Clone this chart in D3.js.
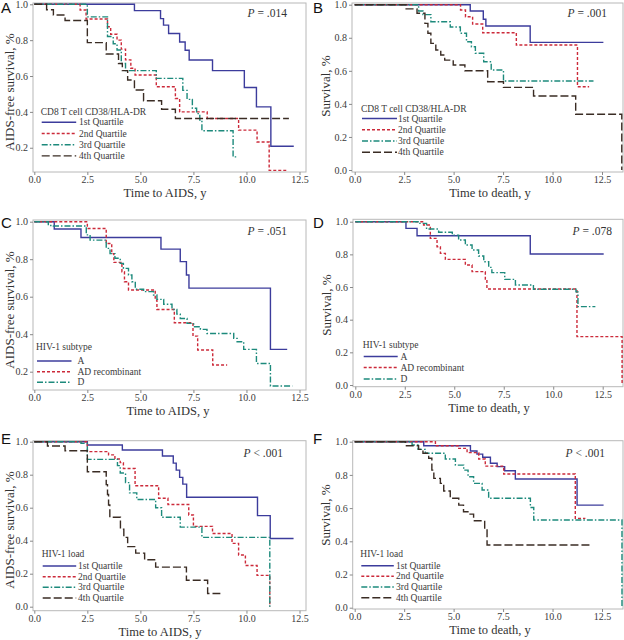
<!DOCTYPE html>
<html><head><meta charset="utf-8">
<script src="https://cdn.jsdelivr.net/npm/d3@7/dist/d3.min.js"></script>
<style>
body{margin:0;background:#fff}
svg{display:block}
text{font-family:"Liberation Serif","Times New Roman",serif}
</style>
</head><body>
<svg id="chart" width="624" height="640"></svg>
<script>
// ---------- data ----------
const xTicks = [0, 2.5, 5, 7.5, 10, 12.5];
const yTicksShort = [0.2, 0.4, 0.6, 0.8, 1.0];
const yTicksFull = [0.0, 0.2, 0.4, 0.6, 0.8, 1.0];
const quartileNames = ["1st Quartile", "2nd Quartile", "3rd Quartile", "4th Quartile"];
const subtypeNames = ["A", "AD recombinant", "D"];

// Panel A: AIDS-free survival by CD8 CD38/HLA-DR quartile  [time, survival]
const A_q1 = [[0,1],[4.72,0.965],[5.95,0.92],[6.09,0.884],[6.33,0.837],[6.85,0.79],[7.11,0.744],[7.3,0.689],[8.4,0.63],[9.9,0.536],[10.47,0.428],[11.15,0.208],[12.23,0.208]];
const A_q2 = [[0,1],[2.16,0.968],[2.44,0.918],[3.45,0.875],[3.6,0.833],[3.9,0.80],[4.1,0.75],[4.3,0.69],[4.55,0.643],[4.75,0.606],[5.75,0.54],[6.65,0.475],[6.85,0.40],[8.15,0.363],[9.63,0.298],[10.5,0.232],[11.07,0.074],[11.92,0.074]];
const A_q3 = [[0,1],[2.5,0.93],[3.45,0.82],[3.72,0.78],[3.9,0.745],[4.1,0.67],[4.3,0.63],[5.75,0.587],[7.0,0.52],[7.2,0.47],[7.45,0.42],[7.65,0.39],[7.8,0.355],[7.9,0.295],[9.37,0.149],[9.58,0.149]];
const A_q4 = [[0,1],[0.58,0.97],[0.9,0.94],[1.45,0.91],[2.5,0.786],[3.39,0.723],[3.97,0.67],[4.15,0.63],[4.4,0.578],[4.72,0.522],[5.15,0.462],[6.0,0.415],[6.65,0.363],[12.0,0.363]];

// Panel B: survival by CD8 CD38/HLA-DR quartile
const B_q1 = [[0,1],[5.84,0.962],[6.5,0.912],[6.63,0.871],[8.87,0.772],[12.57,0.772]];
const B_q2 = [[0,1],[5.35,0.968],[5.6,0.927],[5.96,0.883],[6.47,0.83],[8.17,0.756],[11.26,0.504],[11.85,0.504]];
const B_q3 = [[0,1],[3.23,0.962],[3.45,0.94],[3.85,0.897],[4.83,0.865],[5.34,0.827],[5.65,0.776],[5.9,0.746],[6.1,0.706],[6.52,0.655],[6.9,0.605],[7.52,0.538],[12.07,0.538]];
const B_q4 = [[0,1],[2.6,0.975],[3.15,0.948],[3.55,0.887],[3.7,0.827],[3.85,0.766],[4.1,0.726],[4.35,0.696],[4.55,0.665],[4.98,0.635],[5.57,0.60],[6.72,0.534],[7.52,0.50],[9.04,0.448],[11.17,0.337],[13.5,0.0]];

// Panel C: AIDS-free survival by HIV-1 subtype
const C_A = [[0,1],[0.94,0.961],[2.2,0.916],[5.97,0.854],[6.88,0.787],[7.17,0.716],[7.29,0.646],[11.13,0.319],[11.92,0.319]];
const C_AD = [[0,1],[2.5,0.964],[3.39,0.884],[3.65,0.83],[3.75,0.783],[4.13,0.733],[4.25,0.68],[4.44,0.636],[5.7,0.582],[5.78,0.532],[6.6,0.461],[7.48,0.39],[7.7,0.316],[8.41,0.236],[9.09,0.236]];
const C_D = [[0,1],[0.66,0.98],[0.9,0.977],[2.45,0.93],[2.63,0.902],[3.39,0.858],[3.57,0.83],[3.8,0.805],[4.05,0.778],[4.2,0.751],[4.44,0.716],[4.6,0.68],[4.76,0.64],[5.15,0.627],[5.62,0.609],[5.78,0.586],[6.1,0.56],[6.49,0.532],[6.72,0.507],[6.88,0.484],[7.2,0.458],[7.51,0.44],[7.83,0.426],[8.14,0.404],[9.4,0.378],[9.56,0.36],[9.87,0.319],[10.47,0.244],[11.13,0.124],[12.16,0.124]];

// Panel D: survival by HIV-1 subtype
const D_A = [[0,1],[2.56,0.959],[3.12,0.914],[8.84,0.802],[12.55,0.802]];
const D_AD = [[0,1],[3.45,0.98],[3.79,0.898],[4.13,0.847],[4.3,0.806],[4.55,0.769],[5.56,0.735],[5.9,0.694],[6.57,0.643],[6.65,0.588],[11.2,0.296],[13.48,0.0]];
const D_D = [[0,1],[3.17,0.99],[3.6,0.955],[4.21,0.935],[4.9,0.918],[5.22,0.888],[5.56,0.857],[5.9,0.827],[6.23,0.79],[6.49,0.755],[6.74,0.72],[6.9,0.688],[7.55,0.647],[8.09,0.612],[9.0,0.586],[11.15,0.57],[11.25,0.48],[12.13,0.48]];

// Panel E: AIDS-free survival by HIV-1 load quartile
const E_q1 = [[0,1],[2.5,0.98],[4.15,0.95],[6.04,0.913],[6.55,0.87],[6.69,0.828],[6.85,0.784],[7.0,0.743],[7.18,0.663],[10.52,0.552],[11.12,0.413],[12.22,0.413]];
const E_q2 = [[0,1],[2.5,0.94],[3.5,0.92],[3.8,0.895],[4.05,0.873],[4.2,0.838],[4.75,0.733],[5.86,0.657],[6.3,0.619],[7.28,0.556],[7.5,0.487],[8.4,0.444],[9.32,0.384],[9.63,0.313],[9.95,0.25],[10.5,0.19],[11.1,0.0]];
const E_q3 = [[0,1],[2.2,0.99],[2.5,0.893],[3.92,0.855],[4.05,0.81],[4.3,0.752],[4.49,0.69],[4.83,0.65],[5.72,0.6],[6.0,0.542],[6.88,0.482],[7.9,0.42],[11.1,0.0]];
const E_q4 = [[0,1],[0.62,0.974],[1.45,0.945],[2.5,0.818],[3.39,0.74],[3.45,0.68],[3.5,0.616],[3.56,0.542],[4.06,0.47],[4.22,0.42],[4.4,0.364],[4.78,0.325],[5.2,0.285],[5.72,0.24],[7.17,0.16],[8.17,0.08],[8.77,0.08]];

// Panel F: survival by HIV-1 load quartile
const F_q1 = [[0,1],[3.49,0.976],[5.85,0.944],[6.18,0.925],[6.47,0.906],[6.86,0.87],[7.2,0.85],[7.58,0.825],[8.12,0.775],[11.24,0.618],[12.58,0.618]];
const F_q2 = [[0,1],[4.08,0.976],[5.26,0.96],[5.68,0.934],[6.27,0.896],[6.6,0.853],[7.53,0.805],[11.15,0.538],[11.66,0.538]];
const F_q3 = [[0,1],[2.9,0.98],[3.2,0.954],[3.57,0.93],[4.58,0.896],[5.09,0.859],[5.51,0.829],[5.73,0.789],[6.01,0.749],[6.44,0.709],[6.77,0.659],[8.88,0.604],[9.05,0.528],[13.51,0.0]];
const F_q4 = [[0,1],[2.56,0.976],[3.23,0.954],[3.45,0.93],[3.74,0.9],[3.9,0.829],[4.0,0.779],[4.33,0.749],[4.5,0.703],[4.83,0.659],[5.26,0.618],[5.5,0.578],[5.76,0.564],[6.01,0.524],[6.57,0.48],[6.69,0.378],[11.91,0.378]];

const pValues = ["= .014", "= .001", "= .051", "= .078", "< .001", "< .001"];

// ---------- styles ----------
const seriesStyle = [
  {color:"#3c3c9c", dash:null},
  {color:"#cc2a3a", dash:"3,2"},
  {color:"#1d8a7c", dash:"6,2,1.5,2"},
  {color:"#3a2c24", dash:"8,3"}
];

// ---------- layout ----------
const panels = [
  {letter:"A", series:[A_q1,A_q2,A_q3,A_q4], names:quartileNames, legendTitle:"CD8 T cell CD38/HLA-DR",
   p:pValues[0], yTitle:"AIDS-free survival, %", xTitle:"Time to AIDS, y", yTicks:yTicksShort,
   box:[33,3,306,172], xr:[34.3,299.5], yr:[183.6,4.3],
   letterPos:[1,13], pPos:[287,17], yTitlePos:[14,92], xTitlePos:[165,197],
   leg:{x:41.7, ty:115, rows:[122.3,133.5,144.7,155.9], len:34.5, lx:79}},
  {letter:"B", series:[B_q1,B_q2,B_q3,B_q4], names:quartileNames, legendTitle:"CD8 T cell CD38/HLA-DR",
   p:pValues[1], yTitle:"Survival, %", xTitle:"Time to death, y", yTicks:yTicksFull,
   box:[352,3,623,172], xr:[354.7,602], yr:[170,4.7],
   letterPos:[313,13], pPos:[607,17], yTitlePos:[330,86], xTitlePos:[490,197],
   leg:{x:362, ty:111.5, rows:[118.5,129.8,141,152.3], len:35, lx:398}},
  {letter:"C", series:[C_A,C_AD,C_D], names:subtypeNames, legendTitle:"HIV-1 subtype",
   p:pValues[2], yTitle:"AIDS-free survival, %", xTitle:"Time to AIDS, y", yTicks:yTicksShort,
   box:[33,220,306,390], xr:[34.3,299.5], yr:[409.2,221.7],
   letterPos:[1,228], pPos:[287,235], yTitlePos:[14,310], xTitlePos:[168,415],
   leg:{x:37, ty:350, rows:[361,371.7,382.3], len:34.5, lx:77.5}},
  {letter:"D", series:[D_A,D_AD,D_D], names:subtypeNames, legendTitle:"HIV-1 subtype",
   p:pValues[3], yTitle:"Survival, %", xTitle:"Time to death, y", yTicks:yTicksFull,
   box:[353,219.3,623,386.7], xr:[355.3,602.7], yr:[385,221.7],
   letterPos:[313,228], pPos:[612,235], yTitlePos:[331,305], xTitlePos:[489,412],
   leg:{x:363.7, ty:348, rows:[356.5,367.5,379], len:34, lx:400.5}},
  {letter:"E", series:[E_q1,E_q2,E_q3,E_q4], names:quartileNames, legendTitle:"HIV-1 load",
   p:pValues[4], yTitle:"AIDS-free survival, %", xTitle:"Time to AIDS, y", yTicks:yTicksFull,
   box:[33,440.7,306,610.7], xr:[34.3,299.5], yr:[606.7,441.7],
   letterPos:[1,444], pPos:[283,457], yTitlePos:[14,530], xTitlePos:[160,636],
   leg:{x:42.7, ty:556.5, rows:[566,576.7,587.3,598], len:33.5, lx:78}},
  {letter:"F", series:[F_q1,F_q2,F_q3,F_q4], names:quartileNames, legendTitle:"HIV-1 load",
   p:pValues[5], yTitle:"Survival, %", xTitle:"Time to death, y", yTicks:yTicksFull,
   box:[352.7,440.7,623,609], xr:[354.7,602], yr:[607.7,441.7],
   letterPos:[313,444], pPos:[605,457], yTitlePos:[330,515], xTitlePos:[490,634],
   leg:{x:361.3, ty:556.5, rows:[565.7,576.3,587,597.7], len:32.5, lx:396}}
];

const svg = d3.select("#chart");
const fmt = d3.format(".1f");

panels.forEach(pn => {
  const g = svg.append("g");
  const x = d3.scaleLinear().domain([0, 12.5]).range(pn.xr);
  const y = d3.scaleLinear().domain([0, 1]).range(pn.yr);
  const [bl, bt, br, bb] = pn.box;

  // plot frame
  g.append("rect").attr("x", bl).attr("y", bt).attr("width", br - bl).attr("height", bb - bt)
    .attr("fill", "none").attr("stroke", "#b8b8b8").attr("stroke-width", 1);

  // x axis
  const xa = g.append("g").attr("transform", `translate(0,${bb})`)
    .call(d3.axisBottom(x).tickValues(xTicks).tickFormat(fmt).tickSize(3).tickPadding(1));
  xa.select(".domain").remove();
  xa.selectAll("line").attr("stroke", "#888");
  xa.selectAll("text").attr("fill", "#3a3a3a").style("font-size", "10px")
    .style("font-family", '"Liberation Serif","Times New Roman",serif');

  // y axis
  const ya = g.append("g").attr("transform", `translate(${bl},0)`)
    .call(d3.axisLeft(y).tickValues(pn.yTicks).tickFormat(fmt).tickSize(3).tickPadding(2));
  ya.select(".domain").remove();
  ya.selectAll("line").attr("stroke", "#888");
  ya.selectAll("text").attr("fill", "#3a3a3a").style("font-size", "10px")
    .style("font-family", '"Liberation Serif","Times New Roman",serif');

  // curves
  const line = d3.line().x(d => x(d[0])).y(d => y(d[1])).curve(d3.curveStepAfter);
  pn.series.forEach((s, i) => {
    const st = seriesStyle[i];
    g.append("path").datum(s).attr("d", line).attr("fill", "none")
      .attr("stroke", st.color).attr("stroke-width", 1.4)
      .attr("stroke-dasharray", st.dash);
  });

  // legend
  g.append("text").attr("x", pn.leg.x - 1).attr("y", pn.leg.ty).text(pn.legendTitle)
    .style("font-size", "9.5px").attr("fill", "#3a3a3a");
  pn.names.forEach((nm, i) => {
    const st = seriesStyle[i];
    const ry = pn.leg.rows[i];
    g.append("line").attr("x1", pn.leg.x).attr("x2", pn.leg.x + pn.leg.len)
      .attr("y1", ry).attr("y2", ry).attr("stroke", st.color).attr("stroke-width", 1.4)
      .attr("stroke-dasharray", st.dash);
    g.append("text").attr("x", pn.leg.lx).attr("y", ry + 3).text(nm)
      .style("font-size", "9.5px").attr("fill", "#3a3a3a");
  });

  // p value
  const pt = g.append("text").attr("x", pn.pPos[0]).attr("y", pn.pPos[1])
    .attr("text-anchor", "end").style("font-size", "11.5px").attr("fill", "#333");
  pt.append("tspan").style("font-style", "italic").text("P");
  pt.append("tspan").text(" " + pn.p);

  // axis titles
  g.append("text").attr("transform", `translate(${pn.yTitlePos[0]},${pn.yTitlePos[1]}) rotate(-90)`)
    .attr("text-anchor", "middle").text(pn.yTitle).style("font-size", "13px").attr("fill", "#333");
  g.append("text").attr("x", pn.xTitlePos[0]).attr("y", pn.xTitlePos[1])
    .attr("text-anchor", "middle").text(pn.xTitle).style("font-size", "12.5px").attr("fill", "#333");

  // panel letter
  g.append("text").attr("x", pn.letterPos[0]).attr("y", pn.letterPos[1]).text(pn.letter)
    .style("font-family", '"Liberation Sans",Arial,sans-serif').style("font-size", "15px").attr("fill", "#111");
});
</script>
</body></html>
